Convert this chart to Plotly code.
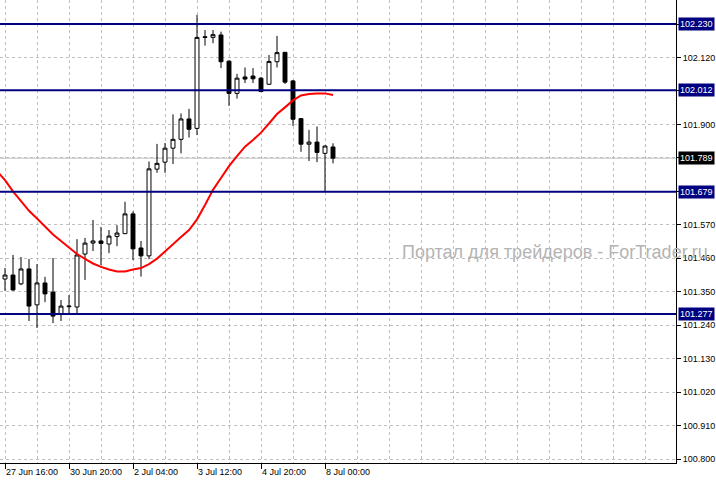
import plotly.graph_objects as go

# ---- data (H4 candles, index 0 = 27 Jun 16:00) ----
time_ticks = [0, 8, 16, 24, 32, 40]
time_labels = ["27 Jun 16:00", "30 Jun 20:00", "2 Jul 04:00", "3 Jul 12:00", "4 Jul 20:00", "8 Jul 00:00"]

opens = [101.392, 101.405, 101.376, 101.425, 101.307, 101.379, 101.349, 101.277, 101.301, 101.300,
         101.474, 101.510, 101.517, 101.507, 101.532, 101.541, 101.606, 101.494, 101.468, 101.753,
         101.776, 101.822, 101.851, 101.918, 101.887, 102.188, 102.186, 102.194, 102.108, 102.002,
         102.056, 102.059, 102.052, 102.032, 102.106, 102.137, 102.043, 101.919, 101.835, 101.842,
         101.805, 101.826]
highs = [101.428, 101.471, 101.464, 101.458, 101.441, 101.399, 101.461, 101.323, 101.339, 101.523,
         101.527, 101.586, 101.563, 101.553, 101.569, 101.646, 101.614, 101.517, 101.778, 101.836,
         101.839, 101.933, 101.936, 101.951, 102.260, 102.210, 102.210, 102.205, 102.110, 102.066,
         102.087, 102.085, 102.056, 102.128, 102.191, 102.138, 102.046, 101.921, 101.882, 101.893,
         101.831, 101.838]
lows = [101.353, 101.353, 101.372, 101.254, 101.231, 101.316, 101.247, 101.254, 101.277, 101.280,
        101.389, 101.484, 101.438, 101.477, 101.500, 101.540, 101.454, 101.400, 101.457, 101.741,
        101.741, 101.770, 101.805, 101.857, 101.865, 102.159, 102.167, 102.085, 101.961, 101.985,
        102.036, 102.036, 102.007, 102.030, 102.087, 102.033, 101.895, 101.810, 101.780, 101.776,
        101.678, 101.772]
closes = [101.405, 101.356, 101.425, 101.303, 101.379, 101.343, 101.270, 101.303, 101.303, 101.471,
          101.510, 101.517, 101.509, 101.533, 101.543, 101.606, 101.491, 101.468, 101.754, 101.772,
          101.822, 101.851, 101.918, 101.884, 102.186, 102.186, 102.195, 102.106, 102.002, 102.052,
          102.049, 102.050, 102.008, 102.107, 102.136, 102.039, 101.917, 101.835, 101.842, 101.808,
          101.829, 101.789]

# moving average, starting one bar before the first visible candle
ma_start = -1
ma_values = [101.747, 101.717, 101.680, 101.648, 101.616, 101.591, 101.566, 101.538, 101.517, 101.494,
             101.474, 101.458, 101.443, 101.432, 101.423, 101.417, 101.417, 101.423, 101.428, 101.441,
             101.459, 101.482, 101.507, 101.530, 101.553, 101.588, 101.635, 101.685, 101.724, 101.763,
             101.796, 101.827, 101.849, 101.873, 101.903, 101.934, 101.956, 101.979, 101.995, 102.000,
             102.002, 102.002, 101.997]

levels = [102.230, 102.012, 101.679, 101.277]
last_price = 101.789

price_ticks = [102.230, 102.120, 102.010, 101.900, 101.790, 101.680, 101.570,
               101.460, 101.350, 101.240, 101.130, 101.020, 100.910, 100.800]
price_tick_labels = ["", "102.120", "", "101.900", "", "", "101.570",
                     "101.460", "101.350", "101.240", "101.130", "101.020", "100.910", "100.800"]

watermark = "Портал для трейдеров - ForTrader.ru"

# ---- figure ----
FONT = "Liberation Sans, Arial, sans-serif"
GRID = "#c0c0c0"
NAVY = "#000080"

candle_x = list(range(len(opens)))
ma_x = list(range(ma_start, ma_start + len(ma_values)))

fig = go.Figure()
fig.add_trace(go.Candlestick(
    x=candle_x, open=opens, high=highs, low=lows, close=closes,
    increasing=dict(line=dict(color="black", width=1), fillcolor="white"),
    decreasing=dict(line=dict(color="black", width=1), fillcolor="black"),
    whiskerwidth=0, hoverinfo="skip", showlegend=False,
))
fig.add_trace(go.Scatter(
    x=ma_x, y=ma_values, mode="lines",
    line=dict(color="#ff0000", width=2), hoverinfo="skip", showlegend=False,
))

shapes = []
shapes.append(dict(type="line", xref="paper", x0=0, x1=1, yref="y", y0=last_price, y1=last_price,
                   line=dict(color=GRID, width=1), layer="below"))
for v in levels:
    shapes.append(dict(type="line", xref="paper", x0=0, x1=1, yref="y", y0=v, y1=v,
                       line=dict(color=NAVY, width=2), layer="above"))

annotations = []
for v in levels:
    annotations.append(dict(x=1, xref="paper", y=v, yref="y", xanchor="left", yanchor="middle",
                            text=f"{v:.3f}", showarrow=False, xshift=2,
                            font=dict(family=FONT, size=9, color="white"),
                            bgcolor=NAVY, borderpad=1))
annotations.append(dict(x=1, xref="paper", y=last_price, yref="y", xanchor="left", yanchor="middle",
                        text=f"{last_price:.3f}", showarrow=False, xshift=2,
                        font=dict(family=FONT, size=9, color="white"),
                        bgcolor="black", borderpad=1))
annotations.append(dict(x=1.0503, xref="paper", y=0.4557, yref="paper", xanchor="right", yanchor="middle",
                        text=watermark, showarrow=False,
                        font=dict(family=FONT, size=18, color="#b4b4b4")))

fig.update_layout(
    width=716, height=481,
    margin=dict(l=0, r=40, t=0, b=18, autoexpand=False),
    plot_bgcolor="white", paper_bgcolor="white",
    showlegend=False,
    shapes=shapes, annotations=annotations,
    xaxis=dict(
        range=[-0.625, 83.875],
        rangeslider=dict(visible=False),
        tickmode="array", tickvals=time_ticks, ticktext=time_labels,
        ticks="outside", ticklen=5, tickcolor="black", tickwidth=1,
        ticklabelposition="outside right",
        tickfont=dict(family=FONT, size=9, color="black"),
        showgrid=True, gridcolor=GRID, griddash="3px,3px", gridwidth=1,
        minor=dict(tickmode="linear", tick0=0, dtick=4, showgrid=True,
                   gridcolor=GRID, griddash="3px,3px", gridwidth=1, ticks=""),
        showline=True, linecolor="black", linewidth=1, zeroline=False,
        automargin=False,
    ),
    yaxis=dict(
        side="right",
        range=[100.7873, 102.3089],
        tickmode="array", tickvals=price_ticks, ticktext=price_tick_labels,
        ticks="outside", ticklen=4, tickcolor="black", tickwidth=1,
        tickfont=dict(family=FONT, size=9, color="black"),
        showgrid=True, gridcolor=GRID, griddash="3px,3px", gridwidth=1,
        showline=True, linecolor="black", linewidth=1, zeroline=False,
        automargin=False,
    ),
)

fig.write_html("out.html",
               config={"displayModeBar": False},
               post_script="document.body.style.margin='0';document.body.style.padding='0';")
